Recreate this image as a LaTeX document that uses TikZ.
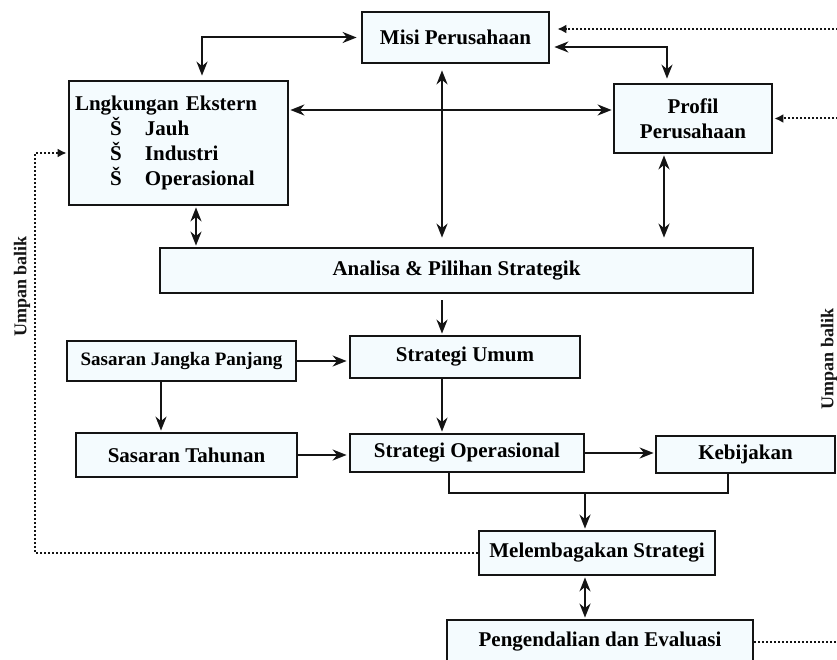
\documentclass[tikz,border=0pt]{standalone}
\usepackage{fontspec}
\setmainfont{Liberation Serif}
\usetikzlibrary{arrows.meta}
\begin{document}
\begin{tikzpicture}[x=1pt,y=-1pt,
  >={Stealth[length=14pt,width=11pt,inset=4.5pt]},
  box/.style={draw=drawColor,fill=fillColor,line width=2.8pt,inner sep=0pt,font=\fontsize{21}{25}\selectfont\bfseries},
  conn/.style={draw=drawColor,line width=2pt},
  dotline/.style={draw=drawColor,line width=2pt,dash pattern=on 2pt off 2pt},
  dotarrow/.style={dotline,-{Latex[length=9pt,width=9pt]}},
  sidelabel/.style={text=drawColor,rotate=90,inner sep=0pt,font=\fontsize{18}{18}\selectfont\bfseries}]
\definecolor{drawColor}{RGB}{20,20,20}
\definecolor{fillColor}{RGB}{244,251,254}
\path[use as bounding box,fill=white] (0,0) rectangle (837,660);
\begin{scope}
\path[clip] (0,0) rectangle (837,660);

\node[box,minimum width=187,minimum height=51] (misi) at (455.5,37.5) {Misi Perusahaan};

\node[box,minimum width=219,minimum height=124,text width=207pt,inner xsep=6pt,align=left] (lingk) at (178.5,143) {Lngkungan Ekstern\\
\hspace*{35pt}\makebox[35pt][l]{Š}Jauh\\
\hspace*{35pt}\makebox[35pt][l]{Š}Industri\\
\hspace*{35pt}\makebox[35pt][l]{Š}Operasional};

\node[box,minimum width=158,minimum height=69,align=center] (profil) at (693,118.5) {Profil\\Perusahaan};

\node[box,minimum width=593,minimum height=45] (analisa) at (456.5,270.5) {Analisa \& Pilihan Strategik};

\node[box,minimum width=229,minimum height=40,font=\fontsize{19}{23}\selectfont\bfseries] (sjp) at (181.5,361) {Sasaran Jangka Panjang};

\node[box,minimum width=230,minimum height=42] (umum) at (465,357) {Strategi Umum};

\node[box,minimum width=221,minimum height=44] (tahunan) at (186.5,455) {Sasaran Tahunan};

\node[box,minimum width=234,minimum height=38] (operasional) at (467,453) {Strategi Operasional};

\node[box,minimum width=179,minimum height=37] (kebijakan) at (745.5,454.5) {Kebijakan};

\node[box,minimum width=236,minimum height=44] (lembaga) at (597,553) {Melembagakan Strategi};

\node[box,minimum width=306,minimum height=44] (kendali) at (600,642) {Pengendalian dan Evaluasi};

\node[sidelabel] (balikKiriLabel) at (22,286.5) {Umpan balik};

\node[sidelabel] (balikKananLabel) at (829,359) {Umpan balik};

\coordinate (kolomA) at (196,0);
\coordinate (kolomB) at (442,0);
\coordinate (kolomC) at (664,0);
\coordinate (kolomD) at (161,0);
\coordinate (sudutMisi) at (202,38);
\coordinate (sudutProfil) at (667,47);
\coordinate (rel) at (0,110);
\coordinate (gabungKiri) at (449,493);
\coordinate (gabungKanan) at (728,493);
\coordinate (gabung) at (585,493);
\coordinate (balikKiri) at (35,153);
\coordinate (balikKanan) at (850,642);
\coordinate (masukMisi) at (0,29);

\draw[conn,<->,shorten <=4pt,shorten >=4pt] (misi.west) -| (lingk.north -| sudutMisi);

\draw[conn,<->,shorten <=1pt,shorten >=1pt] (lingk.east |- rel) -- (profil.west |- rel);

\draw[conn,<->,shorten <=4pt,shorten >=4pt] (misi.east |- sudutProfil) -| (profil.north -| sudutProfil);

\draw[conn,<->,shorten <=6pt,shorten >=9pt] (misi.south -| kolomB) -- (analisa.north -| kolomB);

\draw[conn,<->,shorten <=1pt,shorten >=1pt] (lingk.south -| kolomA) -- (analisa.north -| kolomA);

\draw[conn,<->,shorten <=1pt,shorten >=9pt] (profil.south -| kolomC) -- (analisa.north -| kolomC);

\draw[conn,->,shorten <=6pt,shorten >=1pt] (analisa.south -| kolomB) -- (umum.north -| kolomB);

\draw[conn,->,shorten >=1pt] (umum.south -| kolomB) -- (operasional.north -| kolomB);

\draw[conn,->,shorten >=2pt] (sjp.east) -- (sjp.east -| umum.west);

\draw[conn,->,shorten >=1pt] (sjp.south -| kolomD) -- (tahunan.north -| kolomD);

\draw[conn,->,shorten >=2pt] (tahunan.east) -- (tahunan.east -| operasional.west);

\draw[conn,->,shorten >=1pt] (operasional.east) -- (operasional.east -| kebijakan.west);

\draw[conn] (operasional.south -| gabungKiri) -- (gabungKiri) -- (gabungKanan) -- (kebijakan.south -| gabungKanan);

\draw[conn,->,shorten >=1pt] (gabung) -- (lembaga.north -| gabung);

\draw[conn,<->,shorten <=1pt,shorten >=1pt] (lembaga.south -| gabung) -- (kendali.north -| gabung);

\draw[dotarrow,shorten >=1pt] (lembaga.west) -| (balikKiri) -- (lingk.west |- balikKiri);

\draw[dotline] (kendali.east) -- (balikKanan) -- (balikKanan |- masukMisi);

\draw[dotarrow,shorten >=7pt] (balikKanan |- masukMisi) -- (misi.east |- masukMisi);

\draw[dotarrow,shorten >=1pt] (balikKanan |- profil.east) -- (profil.east);
\end{scope}
\end{tikzpicture}
\end{document}
